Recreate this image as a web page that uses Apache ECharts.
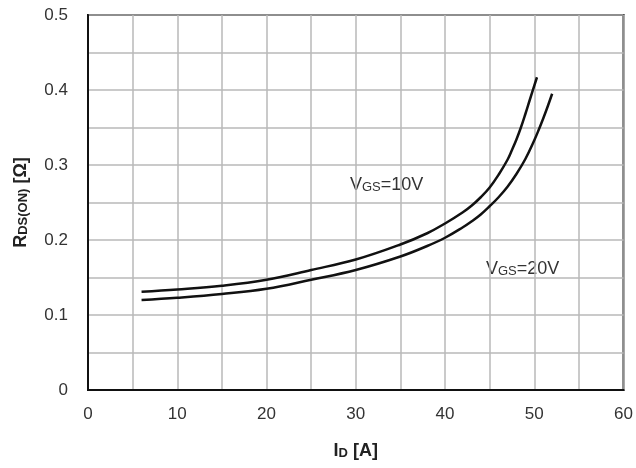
<!DOCTYPE html>
<html>
<head>
<meta charset="utf-8">
<script src="https://cdn.jsdelivr.net/npm/echarts@6/dist/echarts.min.js"></script>
<style>
  html, body { margin: 0; padding: 0; background: #fff; }
  #chart { width: 636px; height: 468px; }
</style>
</head>
<body>
<div id="chart"></div>
<script>
// VGS = 10V curve
const id10 = [6, 10, 15, 20, 25, 30, 35, 38, 40, 42, 43, 44, 45, 46, 47, 47.5, 48, 48.5, 49, 49.5, 50.3];
const r10 = [0.131, 0.134, 0.139, 0.147, 0.16, 0.174, 0.194, 0.209, 0.222, 0.237, 0.246, 0.257, 0.27, 0.287, 0.307, 0.32, 0.334, 0.35, 0.368, 0.387, 0.417];
// VGS = 20V curve
const id20 = [6, 10, 15, 20, 25, 30, 35, 38, 40, 42, 43, 44, 45, 46, 47, 48, 49, 50, 50.5, 51, 51.5, 52];
const r20 = [0.12, 0.123, 0.128, 0.135, 0.147, 0.16, 0.178, 0.192, 0.203, 0.217, 0.225, 0.234, 0.245, 0.257, 0.271, 0.288, 0.308, 0.333, 0.347, 0.362, 0.378, 0.395];

const xLabels = [0, 10, 20, 30, 40, 50, 60];
const yLabels = [0, 0.1, 0.2, 0.3, 0.4, 0.5];

const chart = echarts.init(document.getElementById('chart'));

const pairs = (xs, ys) => xs.map((x, i) => [x, ys[i]]);

const nameRich = {
  b: { fontSize: 18, fontWeight: 'bold', color: '#222', verticalAlign: 'bottom', lineHeight: 22 },
  s: { fontSize: 13, fontWeight: 'bold', color: '#222', verticalAlign: 'bottom', lineHeight: 16 }
};
const noteRich = {
  b: { fontSize: 18, fill: '#333', verticalAlign: 'bottom', lineHeight: 22 },
  s: { fontSize: 13, fill: '#333', verticalAlign: 'bottom', lineHeight: 16 }
};

chart.setOption({
  animation: false,
  textStyle: { fontFamily: 'Liberation Sans, Arial, sans-serif' },
  grid: {
    left: 88, right: 11, top: 15, bottom: 78,
    show: true, borderColor: '#111', borderWidth: 2
  },
  xAxis: {
    type: 'value', min: 0, max: 60, interval: 5,
    name: '{b|I}{s|D}{b| [A]}',
    nameLocation: 'middle', nameGap: 48,
    nameTextStyle: { rich: nameRich },
    axisLine: { lineStyle: { color: '#111', width: 2 } },
    axisTick: { show: false },
    axisLabel: {
      fontSize: 17, color: '#333', margin: 16,
      formatter: v => xLabels.indexOf(v) >= 0 ? String(v) : ''
    },
    splitLine: { lineStyle: { color: '#b8b8b8', width: 1.5 } }
  },
  yAxis: {
    type: 'value', min: 0, max: 0.5, interval: 0.05,
    name: '{b|R}{s|DS(ON)}{b| [Ω]}',
    nameLocation: 'middle', nameGap: 58, nameRotate: 90,
    nameTextStyle: { rich: nameRich },
    axisLine: { show: true, lineStyle: { color: '#111', width: 2 } },
    axisTick: { show: false },
    axisLabel: {
      fontSize: 17, color: '#333', margin: 20,
      formatter: v => {
        const r = Math.round(v * 100) / 100;
        if (!yLabels.some(t => Math.abs(t - r) < 1e-6)) return '';
        return r === 0 ? '0' : r.toFixed(1);
      }
    },
    splitLine: { lineStyle: { color: '#b8b8b8', width: 1.5 } }
  },
  series: [
    {
      name: 'VGS=10V', type: 'line', smooth: 0.4, symbol: 'none',
      data: pairs(id10, r10),
      lineStyle: { color: '#111', width: 2.5 }
    },
    {
      name: 'VGS=20V', type: 'line', smooth: 0.4, symbol: 'none',
      data: pairs(id20, r20),
      lineStyle: { color: '#111', width: 2.5 }
    }
  ],
  graphic: [
    {
      type: 'text', left: 350, top: 176,
      style: { text: '{b|V}{s|GS}{b|=10V}', rich: noteRich }
    },
    {
      type: 'text', left: 486, top: 260,
      style: { text: '{b|V}{s|GS}{b|=20V}', rich: noteRich }
    }
  ]
});
</script>
</body>
</html>
